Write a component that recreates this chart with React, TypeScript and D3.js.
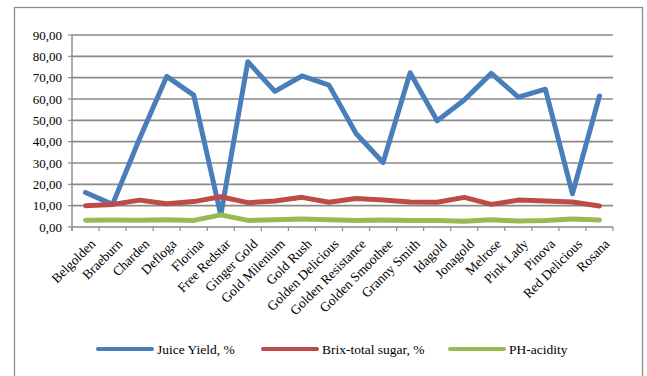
import React from "react";
import * as d3 from "d3";

const categories = [
  "Belgolden", "Braeburn", "Charden", "Defloga", "Florina", "Free Redstar",
  "Ginger Gold", "Gold Milenium", "Gold Rush", "Golden Delicious",
  "Golden Resistance", "Golden Smoothee", "Granny Smith", "Idagold",
  "Jonagold", "Melrose", "Pink Lady", "Pinova", "Red Delicious", "Rosana",
];
const juiceYield = [16.2, 10.6, 41.5, 70.6, 61.8, 5.6, 77.5, 63.6, 70.8, 66.5, 43.8, 30.2, 72.3, 49.8, 59.5, 72.0, 60.9, 64.6, 15.6, 61.4];
const brixSugar = [10.0, 10.6, 12.6, 10.9, 11.9, 14.2, 11.4, 12.2, 13.9, 11.6, 13.4, 12.6, 11.7, 11.6, 13.9, 10.6, 12.6, 12.2, 11.7, 9.8];
const phAcidity = [3.2, 3.3, 3.2, 3.4, 3.1, 5.7, 3.1, 3.4, 3.7, 3.4, 3.1, 3.3, 3.1, 3.0, 2.7, 3.4, 2.8, 3.0, 3.7, 3.3];
const yTicks = [0, 10, 20, 30, 40, 50, 60, 70, 80, 90];
const seriesNames = ["Juice Yield, %", "Brix-total sugar, %", "PH-acidity"];
const seriesColors = ["#4a7ebb", "#be4b48", "#98b954"];

const W = 647, H = 376;
const left = 72, right = 613, top = 35, bottom = 227;
const FONT = "Liberation Serif";

export default function App() {
  const x = d3.scaleBand<string>().domain(categories).range([left, right]).padding(0);
  const y = d3.scaleLinear().domain([0, 90]).range([bottom, top]);
  const cx = (c: string) => (x(c) as number) + x.bandwidth() / 2;
  const line = d3.line<number>().x((_, i) => cx(categories[i])).y((d) => y(d));
  const series = [juiceYield, brixSugar, phAcidity];
  const fmt = (v: number) => v.toFixed(2).replace(".", ",");
  const boundaries = d3.range(categories.length + 1).map((i) => left + i * x.bandwidth());
  const legendX = [98, 263, 450];

  return (
    <svg width={W} height={H} style={{ position: "absolute", left: 0, top: 0, background: "#fff" }}>
      <rect x={14.5} y={7.5} width={628} height={380} fill="#fff" stroke="#8c8c8c" strokeWidth={1.3} />
      {yTicks.map((t) => (
        <g key={t}>
          <line x1={left} x2={right} y1={y(t)} y2={y(t)} stroke="#8a8a8a" strokeWidth={1.6} />
          <line x1={left - 4} x2={left} y1={y(t)} y2={y(t)} stroke="#8a8a8a" strokeWidth={1.2} />
          <text x={left - 10} y={y(t)} dy="0.35em" textAnchor="end" fontFamily={FONT} fontSize={13} fill="#000">
            {fmt(t)}
          </text>
        </g>
      ))}
      <line x1={left} x2={left} y1={top} y2={bottom + 4} stroke="#8a8a8a" strokeWidth={1.4} />
      {boundaries.map((b, i) => (
        <line key={i} x1={b} x2={b} y1={bottom} y2={bottom + 4} stroke="#8a8a8a" strokeWidth={1.2} />
      ))}
      {categories.map((c) => (
        <text key={c} transform={`translate(${cx(c) + 4},${bottom + 11}) rotate(-45)`} textAnchor="end" dy="0.7em"
          fontFamily={FONT} fontSize={13.5} fill="#000">
          {c}
        </text>
      ))}
      {series.map((s, i) => (
        <path key={i} d={line(s) as string} fill="none" stroke={seriesColors[i]} strokeWidth={5} strokeLinejoin="round" strokeLinecap="round" />
      ))}
      {seriesNames.map((n, i) => (
        <g key={n}>
          <line x1={legendX[i]} x2={legendX[i] + 54} y1={349} y2={349} stroke={seriesColors[i]} strokeWidth={4} strokeLinecap="round" />
          <text x={legendX[i] + 59} y={349} dy="0.35em" fontFamily={FONT} fontSize={13.5} fill="#000">{n}</text>
        </g>
      ))}
    </svg>
  );
}
